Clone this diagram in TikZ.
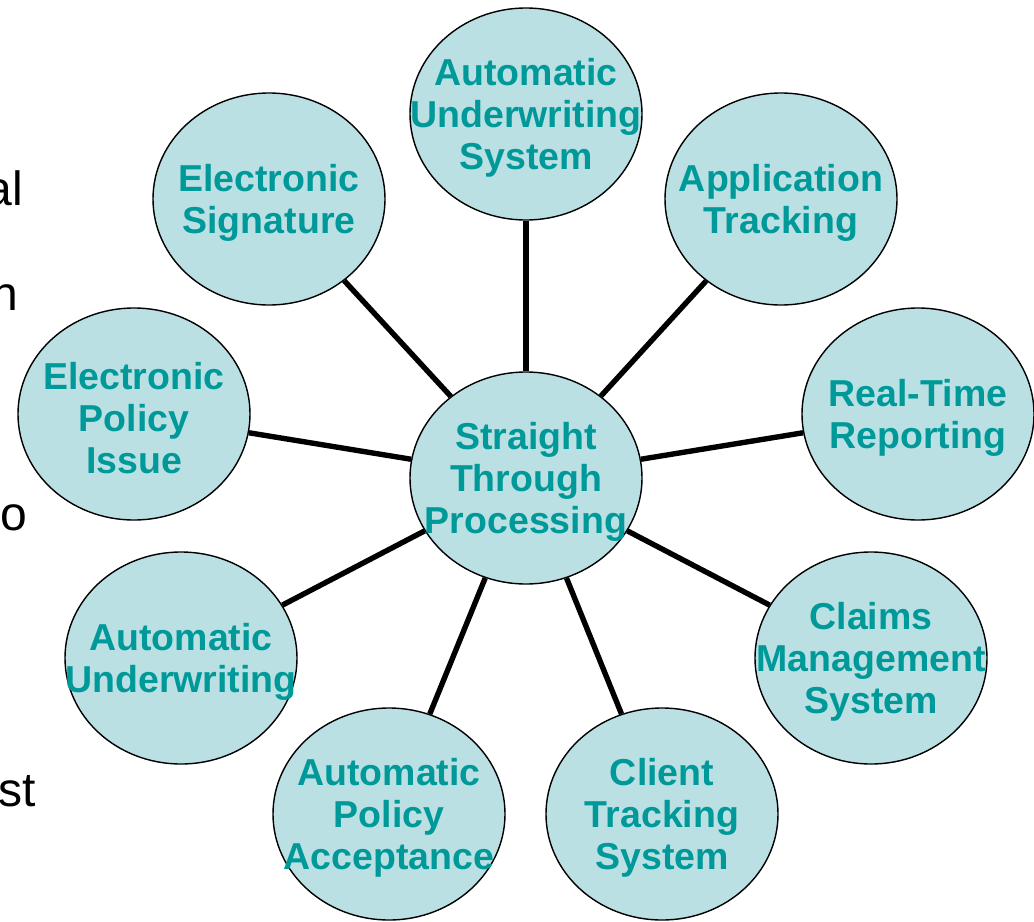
\documentclass[tikz,border=0pt]{standalone}
\usepackage{fontspec}
\setmainfont{Liberation Sans}
\usetikzlibrary{shapes.geometric}
\definecolor{bubfill}{RGB}{187,224,227}
\definecolor{bubtext}{RGB}{0,153,153}
\tikzset{
  bub/.style={ellipse, draw=black, line width=1.2pt, fill=bubfill,
    minimum width=6.96cm, minimum height=6.36cm, inner sep=0pt},
  lab/.style={align=center, text=bubtext, inner sep=0pt, yshift=-3.4pt,
    font=\bfseries\fontsize{32}{35.7}\selectfont},
  spoke/.style={line width=4.6pt, black},
  side/.style={anchor=base east, inner sep=0pt,
    font=\fontsize{41}{48}\selectfont}
}
\begin{document}
\begin{tikzpicture}[x=0.03cm, y=-0.03cm]
\useasboundingbox (0,0) rectangle (1034,921);
\clip (0,0) rectangle (1034,921);
% cut-off words of the slide text at the left edge
\node[side] (w1) at (23,205) {al};
\node[side] (w2) at (18,310) {n};
\node[side] (w3) at (27,530) {to};
\node[side] (w4) at (36,806) {st};
% hub and satellite bubbles
\node[bub] (hub) at (526,478) [label={[lab]center:Straight\\Through\\Processing}] {};
\node[bub] (aus) at (526,114) [label={[lab]center:Automatic\\Underwriting\\System}] {};
\node[bub] (apt) at (781,199) [label={[lab]center:Application\\Tracking}] {};
\node[bub] (rtr) at (918,414) [label={[lab]center:Real-Time\\Reporting}] {};
\node[bub] (cms) at (871,658) [label={[lab]center:Claims\\Management\\System}] {};
\node[bub] (cts) at (662,814) [label={[lab]center:Client\\Tracking\\System}] {};
\node[bub] (apa) at (389,814) [label={[lab]center:Automatic\\Policy\\Acceptance}] {};
\node[bub] (auw) at (181,658) [label={[lab]center:Automatic\\Underwriting}] {};
\node[bub] (epi) at (134,414) [label={[lab]center:Electronic\\Policy\\Issue}] {};
\node[bub] (esg) at (269,199) [label={[lab]center:Electronic\\Signature}] {};
% spokes
\foreach \n in {aus,apt,rtr,cms,cts,apa,auw,epi,esg}
  \draw[spoke] (hub) -- (\n);
\end{tikzpicture}
\end{document}
